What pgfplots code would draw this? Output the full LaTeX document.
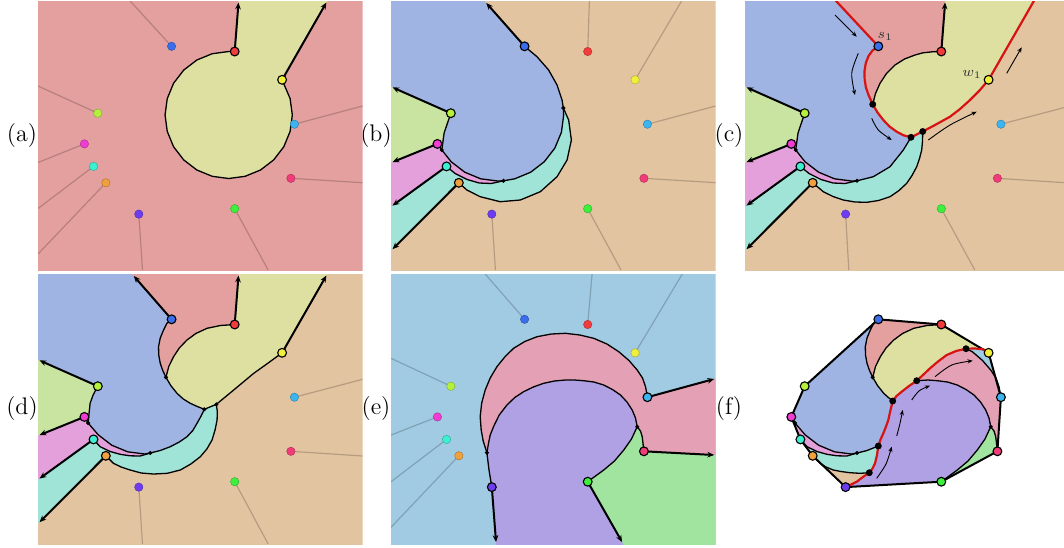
\documentclass[border=0pt]{standalone}
\usepackage{pgfplots}
\pgfplotsset{compat=1.18}
\usetikzlibrary{arrows.meta}
\definecolor{cPink}{RGB}{228,160,159}
\definecolor{cYel}{RGB}{222,224,162}
\definecolor{cBlue}{RGB}{160,180,228}
\definecolor{cTan}{RGB}{227,196,160}
\definecolor{cLgr}{RGB}{200,228,160}
\definecolor{cMag}{RGB}{228,160,218}
\definecolor{cTurq}{RGB}{160,228,216}
\definecolor{cSky}{RGB}{160,203,227}
\definecolor{cRose}{RGB}{228,160,180}
\definecolor{cPurp}{RGB}{176,160,228}
\definecolor{cGrn}{RGB}{160,228,160}
\definecolor{cRed}{RGB}{215,20,20}
\definecolor{sB}{RGB}{60,110,235}
\definecolor{sR}{RGB}{240,60,60}
\definecolor{sY}{RGB}{240,240,60}
\definecolor{sL}{RGB}{180,240,60}
\definecolor{sS}{RGB}{60,180,240}
\definecolor{sM}{RGB}{240,60,210}
\definecolor{sT}{RGB}{60,240,210}
\definecolor{sO}{RGB}{240,160,60}
\definecolor{sP}{RGB}{240,60,120}
\definecolor{sV}{RGB}{110,60,240}
\definecolor{sG}{RGB}{60,240,60}
\pgfplotsset{
  panel/.style={scale only axis, hide axis, clip=true, anchor=north west, y dir=reverse,
    xmin=0, xmax=324, ymin=0, ymax=269, width=162pt, height=134.5pt},
  rg/.style={fill=#1, draw=none},
  ed/.style={draw=black, line width=0.65pt, line join=round},
  ray/.style={draw=black, line width=1pt, -{Stealth[length=3.4pt,width=2.8pt]}},
  gh/.style={draw=black, draw opacity=0.2, line width=0.6pt},
  rd/.style={draw=cRed, line width=1.1pt, line join=round},
  hull/.style={draw=black, line width=1pt, line join=round},
  st/.style={only marks, mark=*, mark size=2.2pt, mark options={fill=#1, draw=black, line width=0.55pt}},
  ist/.style={only marks, mark=*, mark size=2.1pt, mark options={fill=#1, draw=#1!70!black, line width=0.2pt}},
  dt/.style={only marks, mark=*, mark size=#1, mark options={fill=black, draw=black}},
  dt/.default=0.8pt,
  fl/.style={draw=black, line width=0.45pt, smooth, -{Stealth[length=2.6pt,width=2.1pt]}},
}
\begin{document}
\begin{tikzpicture}
\useasboundingbox (0,0) rectangle (532pt,-273.5pt);
\fill[white] (0,0) rectangle (532pt,-273.5pt);
\tikzset{lab/.style={font=\fontsize{12}{14}\selectfont}}
\node[lab] at (11pt,-68pt) {(a)};
\node[lab] at (188pt,-68pt) {(b)};
\node[lab] at (364.5pt,-68pt) {(c)};
\node[lab] at (11pt,-204.5pt) {(d)};
\node[lab] at (188pt,-204.5pt) {(e)};
\node[lab] at (364.5pt,-204.5pt) {(f)};

% ================= (a)
\begin{axis}[panel, at={(19pt,-0.5pt)}]
\addplot[rg=cPink] coordinates {(-2,-2) (326,-2) (326,272) (-2,272)} --cycle;
\addplot[gh] coordinates {(133.3,45.3) (92,0)};
\addplot[gh] coordinates {(59.7,112.2) (0,85)};
\addplot[gh] coordinates {(46.3,142.9) (0,161.5)};
\addplot[gh] coordinates {(55.4,165.4) (0,207.5)};
\addplot[gh] coordinates {(67.7,181.8) (0,253)};
\addplot[gh] coordinates {(100.6,213.1) (104.3,269)};
\addplot[gh] coordinates {(196.3,207.7) (229.7,269)};
\addplot[gh] coordinates {(252.4,177.3) (324,181.7)};
\addplot[gh] coordinates {(255.9,123.2) (324,105)};
\addplot[rg=cYel] coordinates {(196.3,50.5) (200.4,-2) (290,-2) (243.6,78.8) (251.6,97.6) (253.8,114) (251.6,130.4) (245.3,145.75) (235.2,158.9) (222.05,169) (206.7,175.3) (190.3,177.5) (173.9,175.3) (158.55,169) (145.4,158.9) (135.3,145.75) (129,130.4) (126.8,114) (129,97.6) (135.3,82.25) (145.4,69.1) (158.55,59) (173.9,52.7) (190.3,50.5)} --cycle;
\addplot[ed] coordinates {(243.6,78.8) (251.6,97.6) (253.8,114) (251.6,130.4) (245.3,145.75) (235.2,158.9) (222.05,169) (206.7,175.3) (190.3,177.5) (173.9,175.3) (158.55,169) (145.4,158.9) (135.3,145.75) (129,130.4) (126.8,114) (129,97.6) (135.3,82.25) (145.4,69.1) (158.55,59) (173.9,52.7) (190.3,50.5) (196.3,50.5)};
\addplot[ray] coordinates {(196.3,50.5) (200.1,1.5)};
\addplot[ray] coordinates {(243.6,78.8) (287.8,1.5)};
\addplot[ist=sB] coordinates {(133.3,45.3)};
\addplot[st=sR] coordinates {(196.3,50.5)};
\addplot[st=sY] coordinates {(243.6,78.8)};
\addplot[ist=sL] coordinates {(59.7,112.2)};
\addplot[ist=sS] coordinates {(255.9,123.2)};
\addplot[ist=sM] coordinates {(46.3,142.9)};
\addplot[ist=sT] coordinates {(55.4,165.4)};
\addplot[ist=sO] coordinates {(67.7,181.8)};
\addplot[ist=sP] coordinates {(252.4,177.3)};
\addplot[ist=sV] coordinates {(100.6,213.1)};
\addplot[ist=sG] coordinates {(196.3,207.7)};
\end{axis}

% ================= (b)
\begin{axis}[panel, at={(195.5pt,-0.5pt)}]
\addplot[rg=cTan] coordinates {(-2,-2) (326,-2) (326,272) (-2,272)} --cycle;
\addplot[gh] coordinates {(196.3,50.5) (198,0)};
\addplot[gh] coordinates {(243.6,78.8) (290,0)};
\addplot[gh] coordinates {(255.9,123.2) (324,105)};
\addplot[gh] coordinates {(252.4,177.3) (324,181.7)};
\addplot[gh] coordinates {(196.3,207.7) (229.5,269)};
\addplot[gh] coordinates {(100.6,213.1) (104.2,269)};
\addplot[rg=cBlue] coordinates {(-2,-2) (91.6,-2) (133.3,45.3) (145.7,55.7) (157.3,69) (165.7,84) (170.7,99) (172,107) (172.3,114.2) (170.1,131.2) (163.5,147.1) (153,160.7) (139.4,171.2) (123.5,177.8) (112.2,179.8) (106.5,180) (89.5,177.8) (73.6,171.2) (60,160.7) (50.7,149) (53,132) (59.7,112.2) (-2,84.8)} --cycle;
\addplot[rg=cLgr] coordinates {(-2,84.8) (59.7,112.2) (54.5,127) (51,138) (46.3,142.9) (-2,162.5)} --cycle;
\addplot[rg=cMag] coordinates {(-2,162.5) (46.3,142.9) (50.7,149) (60,160.7) (73.6,171.2) (89.5,177.8) (106.5,180) (112.2,179.8) (100,182.5) (88,182) (76,178.5) (64,172.5) (55.4,165.4) (-2,207.2)} --cycle;
\addplot[rg=cTurq] coordinates {(-2,207.2) (55.4,165.4) (64,172.5) (76,178.5) (88,182) (100,182.5) (112.2,179.8) (123.5,177.8) (139.4,171.2) (153,160.7) (163.5,147.1) (170.1,131.2) (172.3,114.2) (172,107) (177.3,119) (180,139) (175.7,159) (165.7,175.7) (149,190.7) (129,199) (109,200.7) (89,195.7) (75.7,189) (67.7,181.8) (-2,251.7)} --cycle;
\addplot[ed] coordinates {(133.3,45.3) (145.7,55.7) (157.3,69) (165.7,84) (170.7,99) (172,107) (172.3,114.2) (170.1,131.2) (163.5,147.1) (153,160.7) (139.4,171.2) (123.5,177.8) (112.2,179.8) (106.5,180) (89.5,177.8) (73.6,171.2) (60,160.7) (50.7,149) (53,132) (59.7,112.2)};
\addplot[ed] coordinates {(46.3,142.9) (50.7,149)};
\addplot[ed] coordinates {(112.2,179.8) (100,182.5) (88,182) (76,178.5) (64,172.5) (55.4,165.4)};
\addplot[ed] coordinates {(172,107) (177.3,119) (180,139) (175.7,159) (165.7,175.7) (149,190.7) (129,199) (109,200.7) (89,195.7) (75.7,189) (67.7,181.8)};
\addplot[ray] coordinates {(133.3,45.3) (95.1,2)};
\addplot[ray] coordinates {(59.7,112.2) (1.5,86.4)};
\addplot[ray] coordinates {(46.3,142.9) (1.5,161.1)};
\addplot[ray] coordinates {(55.4,165.4) (1.5,204.6)};
\addplot[ray] coordinates {(67.7,181.8) (1.5,248.2)};
\addplot[dt] coordinates {(172,107) (112.2,179.8) (50.7,149)};
\addplot[st=sB] coordinates {(133.3,45.3)};
\addplot[ist=sR] coordinates {(196.3,50.5)};
\addplot[ist=sY] coordinates {(243.6,78.8)};
\addplot[st=sL] coordinates {(59.7,112.2)};
\addplot[ist=sS] coordinates {(255.9,123.2)};
\addplot[st=sM] coordinates {(46.3,142.9)};
\addplot[st=sT] coordinates {(55.4,165.4)};
\addplot[st=sO] coordinates {(67.7,181.8)};
\addplot[ist=sP] coordinates {(252.4,177.3)};
\addplot[ist=sV] coordinates {(100.6,213.1)};
\addplot[ist=sG] coordinates {(196.3,207.7)};
\end{axis}

% ================= (c)
\begin{axis}[panel, at={(372.5pt,-0.5pt)}, xmax=319, width=159.5pt]
\addplot[rg=cTan] coordinates {(-2,-2) (326,-2) (326,272) (-2,272)} --cycle;
\addplot[gh] coordinates {(255.9,123.2) (324,105.3)};
\addplot[gh] coordinates {(252.4,177.3) (324,182)};
\addplot[gh] coordinates {(196.3,207.7) (229.8,269)};
\addplot[gh] coordinates {(100.6,213.1) (103.8,269)};
\addplot[rg=cBlue] coordinates {(-2,-2) (89.2,-2) (133.3,45.3) (127.5,49.5) (123.5,55) (120.8,62) (119.5,70) (119.6,78) (120.8,86) (123.5,94) (127.7,103.3) (132.5,111.5) (138.3,119) (144.5,125.5) (151.7,130.7) (158.5,134.3) (166,136.3) (158.3,149) (145,165.7) (128.3,175.7) (112,179.8) (106.5,180) (89.5,177.8) (73.6,171.2) (60,160.7) (50.7,149) (53,132) (59.7,112.2) (-2,84.8)} --cycle;
\addplot[rg=cPink] coordinates {(89.2,-2) (200.4,-2) (196.3,50.5) (188.3,50.7) (178,51.8) (170,54) (159.5,58) (150,64) (141.5,72.5) (135,82.3) (130.5,92.5) (127.7,103.3) (123.5,94) (120.8,86) (119.6,78) (119.5,70) (120.8,62) (123.5,55) (127.5,49.5) (133.3,45.3)} --cycle;
\addplot[rg=cYel] coordinates {(196.3,50.5) (200.4,-2) (290,-2) (243.6,78.8) (234.5,89.5) (225,99) (215,108) (205,115.7) (190,124) (177.7,130.5) (166,136.3) (158.5,134.3) (151.7,130.7) (144.5,125.5) (138.3,119) (132.5,111.5) (127.7,103.3) (130.5,92.5) (135,82.3) (141.5,72.5) (150,64) (159.5,58) (170,54) (178,51.8) (188.3,50.7)} --cycle;
\addplot[rg=cLgr] coordinates {(-2,84.8) (59.7,112.2) (54.5,127) (51,138) (46.3,142.9) (-2,162.5)} --cycle;
\addplot[rg=cMag] coordinates {(-2,162.5) (46.3,142.9) (50.7,149) (60,160.7) (73.6,171.2) (89.5,177.8) (106.5,180) (112,179.8) (100,182.5) (88,182) (76,178.5) (64,172.5) (55.4,165.4) (-2,207.2)} --cycle;
\addplot[rg=cTurq] coordinates {(-2,207.2) (55.4,165.4) (64,172.5) (76,178.5) (88,182) (100,182.5) (112,179.8) (128.3,175.7) (145,165.7) (158.3,149) (166,136.3) (177.7,130.5) (177.5,140) (176.7,149) (174.5,157.5) (171.7,165.7) (167,174.5) (161.7,182.3) (154,189.5) (145,195.7) (133.5,199.5) (121.7,201.3) (110,201) (98.3,199) (88,195.5) (78.3,190.7) (67.7,181.8) (-2,251.7)} --cycle;
\addplot[ed] coordinates {(127.7,103.3) (130.5,92.5) (135,82.3) (141.5,72.5) (150,64) (159.5,58) (170,54) (178,51.8) (188.3,50.7) (196.3,50.5)};
\addplot[ed] coordinates {(166,136.3) (158.3,149) (145,165.7) (128.3,175.7) (112,179.8) (106.5,180) (89.5,177.8) (73.6,171.2) (60,160.7) (50.7,149) (53,132) (59.7,112.2)};
\addplot[ed] coordinates {(46.3,142.9) (50.7,149)};
\addplot[ed] coordinates {(112,179.8) (100,182.5) (88,182) (76,178.5) (64,172.5) (55.4,165.4)};
\addplot[ed] coordinates {(177.7,130.5) (177.5,140) (176.7,149) (174.5,157.5) (171.7,165.7) (167,174.5) (161.7,182.3) (154,189.5) (145,195.7) (133.5,199.5) (121.7,201.3) (110,201) (98.3,199) (88,195.5) (78.3,190.7) (67.7,181.8)};
\addplot[ray] coordinates {(196.3,50.5) (200.1,1.5)};
\addplot[ray] coordinates {(59.7,112.2) (1.5,86.4)};
\addplot[ray] coordinates {(46.3,142.9) (1.5,161.1)};
\addplot[ray] coordinates {(55.4,165.4) (1.5,204.6)};
\addplot[ray] coordinates {(67.7,181.8) (1.5,248.2)};
\addplot[rd] coordinates {(89.2,-2) (133.3,45.3) (127.5,49.5) (123.5,55) (120.8,62) (119.5,70) (119.6,78) (120.8,86) (123.5,94) (127.7,103.3) (132.5,111.5) (138.3,119) (144.5,125.5) (151.7,130.7) (158.5,134.3) (166,136.3) (177.7,130.5) (190,124) (205,115.7) (215,108) (225,99) (234.5,89.5) (243.6,78.8) (290,-2)};
\addplot[fl] coordinates {(90,14) (111.7,35.7)};
\addplot[fl] coordinates {(113.3,52.3) (106.7,72.3) (110,94)};
\addplot[fl] coordinates {(126.7,117.3) (133.3,129) (146.7,139)};
\addplot[fl] coordinates {(183.3,139) (205,124) (231.7,110.7)};
\addplot[fl] coordinates {(261.7,72.3) (276.7,46.3)};
\addplot[dt=1.5pt] coordinates {(127.7,103.3) (166,136.3) (177.7,130.5)};
\addplot[dt] coordinates {(112,179.8) (50.7,149)};
\node[font=\fontsize{7.5}{8}\selectfont, text=black!80] at (axis cs:140.3,35.2) {$s_1$};
\node[font=\fontsize{7.5}{8}\selectfont, text=black!80] at (axis cs:227,73.2) {$w_1$};
\addplot[st=sB] coordinates {(133.3,45.3)};
\addplot[st=sR] coordinates {(196.3,50.5)};
\addplot[st=sY] coordinates {(243.6,78.8)};
\addplot[st=sL] coordinates {(59.7,112.2)};
\addplot[ist=sS] coordinates {(255.9,123.2)};
\addplot[st=sM] coordinates {(46.3,142.9)};
\addplot[st=sT] coordinates {(55.4,165.4)};
\addplot[st=sO] coordinates {(67.7,181.8)};
\addplot[ist=sP] coordinates {(252.4,177.3)};
\addplot[ist=sV] coordinates {(100.6,213.1)};
\addplot[ist=sG] coordinates {(196.3,207.7)};
\end{axis}

% ================= (d)
\begin{axis}[panel, at={(19pt,-137pt)}, ymax=270, height=135pt]
\addplot[rg=cTan] coordinates {(-2,-2) (326,-2) (326,272) (-2,272)} --cycle;
\addplot[gh] coordinates {(255.9,123.2) (324,105.3)};
\addplot[gh] coordinates {(252.4,177.3) (324,182)};
\addplot[gh] coordinates {(196.3,207.7) (229.7,270)};
\addplot[gh] coordinates {(100.6,213.1) (104.3,270)};
\addplot[rg=cBlue] coordinates {(-2,-2) (92.1,-2) (133.3,45.3) (128.5,49.5) (125.3,56) (122,64) (120.3,72.7) (120.5,81) (122,89.3) (124.5,96.5) (127.7,103.3) (132.5,111.5) (138.7,119.3) (145,125) (152,129.3) (159,132.5) (166,135.3) (162.5,142.5) (158.7,149.3) (154.5,156.5) (148.7,162.7) (141,168) (132,172.7) (122,176.5) (112,179) (106.5,180) (89.5,177.8) (73.6,171.2) (60,160.7) (50,149) (52,129.3) (55,121) (59.7,112.2) (-2,84.8)} --cycle;
\addplot[rg=cPink] coordinates {(92.1,-2) (200.4,-2) (196.3,50.5) (182,51.5) (168.7,54.3) (157.5,59.5) (148.7,66) (141,74) (135.3,82.7) (130.5,92.5) (127.7,103.3) (124.5,96.5) (122,89.3) (120.5,81) (120.3,72.7) (122,64) (125.3,56) (128.5,49.5) (133.3,45.3)} --cycle;
\addplot[rg=cYel] coordinates {(196.3,50.5) (200.4,-2) (290,-2) (243.6,78.8) (229,89.5) (215.3,99.3) (195.3,116) (178,130.3) (166,135.3) (159,132.5) (152,129.3) (145,125) (138.7,119.3) (132.5,111.5) (127.7,103.3) (130.5,92.5) (135.3,82.7) (141,74) (148.7,66) (157.5,59.5) (168.7,54.3) (182,51.5)} --cycle;
\addplot[rg=cLgr] coordinates {(-2,84.8) (59.7,112.2) (55,121) (52,129.3) (50.5,138) (46.3,142.9) (-2,162.5)} --cycle;
\addplot[rg=cMag] coordinates {(-2,162.5) (46.3,142.9) (50,149) (60,160.7) (73.6,171.2) (89.5,177.8) (106.5,180) (112,179) (102,182) (92,181.8) (82,180.3) (72,177.5) (62,172.7) (55.4,165.4) (-2,207.2)} --cycle;
\addplot[rg=cTurq] coordinates {(-2,207.2) (55.4,165.4) (62,172.7) (72,177.5) (82,180.3) (92,181.8) (102,182) (112,179) (122,176.5) (132,172.7) (141,168) (148.7,162.7) (154.5,156.5) (158.7,149.3) (162.5,142.5) (166,135.3) (178,130.3) (179,138) (178.7,146) (176.7,156) (173.7,166) (168.5,175) (162,182.7) (152.5,190) (142,196) (129,199.3) (115.3,200) (103,199) (92,196) (83,193) (75.3,189.3) (67.7,181.8) (-2,251.7)} --cycle;
\addplot[ed] coordinates {(133.3,45.3) (128.5,49.5) (125.3,56) (122,64) (120.3,72.7) (120.5,81) (122,89.3) (124.5,96.5) (127.7,103.3) (132.5,111.5) (138.7,119.3) (145,125) (152,129.3) (159,132.5) (166,135.3) (162.5,142.5) (158.7,149.3) (154.5,156.5) (148.7,162.7) (141,168) (132,172.7) (122,176.5) (112,179) (106.5,180) (89.5,177.8) (73.6,171.2) (60,160.7) (50,149) (52,129.3) (55,121) (59.7,112.2)};
\addplot[ed] coordinates {(127.7,103.3) (130.5,92.5) (135.3,82.7) (141,74) (148.7,66) (157.5,59.5) (168.7,54.3) (182,51.5) (196.3,50.5)};
\addplot[ed] coordinates {(243.6,78.8) (229,89.5) (215.3,99.3) (195.3,116) (178,130.3) (166,135.3)};
\addplot[ed] coordinates {(46.3,142.9) (50,149)};
\addplot[ed] coordinates {(112,179) (102,182) (92,181.8) (82,180.3) (72,177.5) (62,172.7) (55.4,165.4)};
\addplot[ed] coordinates {(178,130.3) (179,138) (178.7,146) (176.7,156) (173.7,166) (168.5,175) (162,182.7) (152.5,190) (142,196) (129,199.3) (115.3,200) (103,199) (92,196) (83,193) (75.3,189.3) (67.7,181.8)};
\addplot[ray] coordinates {(133.3,45.3) (95.6,2)};
\addplot[ray] coordinates {(196.3,50.5) (200.1,1.5)};
\addplot[ray] coordinates {(243.6,78.8) (287.8,1.5)};
\addplot[ray] coordinates {(59.7,112.2) (1.5,86.4)};
\addplot[ray] coordinates {(46.3,142.9) (1.5,161.1)};
\addplot[ray] coordinates {(55.4,165.4) (1.5,204.6)};
\addplot[ray] coordinates {(67.7,181.8) (1.5,248.2)};
\addplot[dt] coordinates {(127.7,103.3) (166,135.3) (178,130.3) (112,179) (50,149)};
\addplot[st=sB] coordinates {(133.3,45.3)};
\addplot[st=sR] coordinates {(196.3,50.5)};
\addplot[st=sY] coordinates {(243.6,78.8)};
\addplot[st=sL] coordinates {(59.7,112.2)};
\addplot[ist=sS] coordinates {(255.9,123.2)};
\addplot[st=sM] coordinates {(46.3,142.9)};
\addplot[st=sT] coordinates {(55.4,165.4)};
\addplot[st=sO] coordinates {(67.7,181.8)};
\addplot[ist=sP] coordinates {(252.4,177.3)};
\addplot[ist=sV] coordinates {(100.6,213.1)};
\addplot[ist=sG] coordinates {(196.3,207.7)};
\end{axis}

% ================= (e)
\begin{axis}[panel, at={(195.5pt,-137pt)}, ymax=270, height=135pt]
\addplot[rg=cSky] coordinates {(-2,-2) (326,-2) (326,272) (-2,272)} --cycle;
\addplot[gh] coordinates {(133.3,45.3) (94,0)};
\addplot[gh] coordinates {(196.3,50.5) (200.7,0)};
\addplot[gh] coordinates {(243.6,78.8) (290.7,0)};
\addplot[gh] coordinates {(59.7,112.2) (0,84.3)};
\addplot[gh] coordinates {(46.3,142.9) (0,161)};
\addplot[gh] coordinates {(55.4,165.4) (0,207.7)};
\addplot[gh] coordinates {(67.7,181.8) (0,253.3)};
\addplot[rg=cRose] coordinates {(95.7,178.7) (92,167) (90,156) (89,142.7) (90.5,129) (94,116) (99,104) (105.7,92.7) (113.5,83) (122.3,74.3) (133.5,67.5) (145.7,62.7) (160,60) (174,59.3) (188.5,61) (202.3,64.3) (215.5,70) (227.3,77.7) (237.5,86.5) (245.7,96) (251,104) (254,112.7) (255.9,123.2) (326,104) (326,181.2) (252.4,177.3) (250.7,162.7) (245.7,152.7) (244,144) (240.7,136) (235.5,128) (229,121) (221,115.5) (212.3,111) (202.5,108) (192.3,106.7) (183,106) (174,106) (163,107) (152.3,109.3) (142,113) (132.3,117.7) (123.5,123.5) (115.7,131) (108,141) (102.3,152.7) (99,161) (97.3,169.3)} --cycle;
\addplot[rg=cPurp] coordinates {(95.7,178.7) (97.3,169.3) (99,161) (102.3,152.7) (108,141) (115.7,131) (123.5,123.5) (132.3,117.7) (142,113) (152.3,109.3) (163,107) (174,106) (183,106) (192.3,106.7) (202.5,108) (212.3,111) (221,115.5) (229,121) (235.5,128) (240.7,136) (244,144) (245.7,152.7) (240,165) (232.3,176) (223,187) (212.3,196) (196.3,207.7) (232.4,271) (105.05,271) (100.6,213.1) (97.8,196)} --cycle;
\addplot[rg=cGrn] coordinates {(196.3,207.7) (212.3,196) (223,187) (232.3,176) (240,165) (245.7,152.7) (249,157) (250.7,162.7) (252.4,177.3) (326,181.2) (326,272) (232.4,271)} --cycle;
\addplot[ed] coordinates {(95.7,178.7) (92,167) (90,156) (89,142.7) (90.5,129) (94,116) (99,104) (105.7,92.7) (113.5,83) (122.3,74.3) (133.5,67.5) (145.7,62.7) (160,60) (174,59.3) (188.5,61) (202.3,64.3) (215.5,70) (227.3,77.7) (237.5,86.5) (245.7,96) (251,104) (254,112.7) (255.9,123.2)};
\addplot[ed] coordinates {(95.7,178.7) (97.3,169.3) (99,161) (102.3,152.7) (108,141) (115.7,131) (123.5,123.5) (132.3,117.7) (142,113) (152.3,109.3) (163,107) (174,106) (183,106) (192.3,106.7) (202.5,108) (212.3,111) (221,115.5) (229,121) (235.5,128) (240.7,136) (244,144) (245.7,152.7) (249,157) (250.7,162.7) (252.4,177.3)};
\addplot[ed] coordinates {(245.7,152.7) (240,165) (232.3,176) (223,187) (212.3,196) (196.3,207.7)};
\addplot[ed] coordinates {(95.7,178.7) (97.8,196) (100.6,213.1)};
\addplot[ray] coordinates {(255.9,123.2) (322.5,105)};
\addplot[ray] coordinates {(252.4,177.3) (322.5,181)};
\addplot[ray] coordinates {(100.6,213.1) (104.8,268)};
\addplot[ray] coordinates {(196.3,207.7) (230.6,268)};
\addplot[dt] coordinates {(95.7,178.7) (245.7,152.7)};
\addplot[ist=sB] coordinates {(133.3,45.3)};
\addplot[ist=sR] coordinates {(196.3,50.5)};
\addplot[ist=sY] coordinates {(243.6,78.8)};
\addplot[ist=sL] coordinates {(59.7,112.2)};
\addplot[st=sS] coordinates {(255.9,123.2)};
\addplot[ist=sM] coordinates {(46.3,142.9)};
\addplot[ist=sT] coordinates {(55.4,165.4)};
\addplot[ist=sO] coordinates {(67.7,181.8)};
\addplot[st=sP] coordinates {(252.4,177.3)};
\addplot[st=sV] coordinates {(100.6,213.1)};
\addplot[st=sG] coordinates {(196.3,207.7)};
\end{axis}

% ================= (f)
\begin{axis}[panel, at={(372.5pt,-137pt)}, xmax=319, width=159.5pt, ymax=270, height=135pt]
\addplot[rg=cBlue] coordinates {(133.3,45.3) (128.5,49.5) (125.3,56) (122,64) (120.3,72.7) (120.5,81) (122,89.3) (124.5,96.5) (127.7,103.3) (132.5,111.5) (138.7,119.3) (143.5,123.6) (147.7,127) (145.5,136) (143.3,146) (141,152.5) (138.3,159.3) (135.5,165.5) (133.3,172) (122,176.5) (112,179) (106.5,180) (89.5,177.8) (73.6,171.2) (60,160.7) (50,149) (46.3,142.9) (59.7,112.2)} --cycle;
\addplot[rg=cPink] coordinates {(133.3,45.3) (196.3,50.5) (182,51.5) (168.7,54.3) (157.5,59.5) (148.7,66) (141,74) (135.3,82.7) (130.5,92.5) (127.7,103.3) (124.5,96.5) (122,89.3) (120.5,81) (120.3,72.7) (122,64) (125.3,56) (128.5,49.5)} --cycle;
\addplot[rg=cYel] coordinates {(196.3,50.5) (243.6,78.8) (238.3,75.3) (230,74.5) (221,74.7) (211,77) (201.7,81) (193,87.5) (185,94.3) (178.5,100.5) (171.7,106.7) (164,112) (156.7,117.7) (151.5,122) (147.7,127) (143.5,123.6) (138.7,119.3) (132.5,111.5) (127.7,103.3) (130.5,92.5) (135.3,82.7) (141,74) (148.7,66) (157.5,59.5) (168.7,54.3) (182,51.5)} --cycle;
\addplot[rg=cMag] coordinates {(46.3,142.9) (50,149) (60,160.7) (73.6,171.2) (89.5,177.8) (106.5,180) (112,179) (102,182) (92,181.8) (82,180.3) (72,177.5) (62,172.7) (55.4,165.4)} --cycle;
\addplot[rg=cTurq] coordinates {(55.4,165.4) (62,172.7) (72,177.5) (82,180.3) (92,181.8) (102,182) (112,179) (122,176.5) (133.3,172) (132,181) (130,189.3) (127.5,194.5) (124.3,198.7) (115,199.3) (105,198.7) (96,197.5) (88.3,196) (81,193) (75,189.3) (67.7,181.8)} --cycle;
\addplot[rg=cTan] coordinates {(67.7,181.8) (75,189.3) (81,193) (88.3,196) (96,197.5) (105,198.7) (115,199.3) (124.3,198.7) (118.3,202.7) (112,207.5) (105,211) (100.6,213.1)} --cycle;
\addplot[rg=cPurp] coordinates {(100.6,213.1) (105,211) (112,207.5) (118.3,202.7) (124.3,198.7) (127.5,194.5) (130,189.3) (132,181) (133.3,172) (135.5,165.5) (138.3,159.3) (141,152.5) (143.3,146) (145.5,136) (147.7,127) (151.5,122) (156.7,117.7) (164,112) (171.7,106.7) (183,106) (192.3,106.7) (202.5,108) (212.3,111) (221,115.5) (229,121) (235.5,128) (240.7,136) (244,144) (245.7,152.7) (240,165) (232.3,176) (223,187) (212.3,196) (196.3,207.7)} --cycle;
\addplot[rg=cGrn] coordinates {(245.7,152.7) (249,157) (250.7,162.7) (252.4,177.3) (196.3,207.7) (212.3,196) (223,187) (232.3,176) (240,165)} --cycle;
\addplot[rg=cRose] coordinates {(171.7,106.7) (178.5,100.5) (185,94.3) (193,87.5) (201.7,81) (211,77) (221,74.7) (227.3,77.7) (237.5,86.5) (245.7,96) (251,104) (254,112.7) (255.9,123.2) (252.4,177.3) (250.7,162.7) (249,157) (245.7,152.7) (244,144) (240.7,136) (235.5,128) (229,121) (221,115.5) (212.3,111) (202.5,108) (192.3,106.7) (183,106)} --cycle;
\addplot[rg=cSky] coordinates {(221,74.7) (230,74.5) (238.3,75.3) (243.6,78.8) (255.9,123.2) (254,112.7) (251,104) (245.7,96) (237.5,86.5) (227.3,77.7)} --cycle;
\addplot[ed] coordinates {(133.3,45.3) (128.5,49.5) (125.3,56) (122,64) (120.3,72.7) (120.5,81) (122,89.3) (124.5,96.5) (127.7,103.3) (132.5,111.5) (138.7,119.3) (143.5,123.6) (147.7,127)};
\addplot[ed] coordinates {(127.7,103.3) (130.5,92.5) (135.3,82.7) (141,74) (148.7,66) (157.5,59.5) (168.7,54.3) (182,51.5) (196.3,50.5)};
\addplot[ed] coordinates {(133.3,172) (122,176.5) (112,179) (106.5,180) (89.5,177.8) (73.6,171.2) (60,160.7) (50,149) (46.3,142.9)};
\addplot[ed] coordinates {(112,179) (102,182) (92,181.8) (82,180.3) (72,177.5) (62,172.7) (55.4,165.4)};
\addplot[ed] coordinates {(124.3,198.7) (115,199.3) (105,198.7) (96,197.5) (88.3,196) (81,193) (75,189.3) (67.7,181.8)};
\addplot[ed] coordinates {(171.7,106.7) (183,106) (192.3,106.7) (202.5,108) (212.3,111) (221,115.5) (229,121) (235.5,128) (240.7,136) (244,144) (245.7,152.7) (249,157) (250.7,162.7) (252.4,177.3)};
\addplot[ed] coordinates {(245.7,152.7) (240,165) (232.3,176) (223,187) (212.3,196) (196.3,207.7)};
\addplot[ed] coordinates {(221,74.7) (227.3,77.7) (237.5,86.5) (245.7,96) (251,104) (254,112.7) (255.9,123.2)};
\addplot[hull] coordinates {(133.3,45.3) (196.3,50.5) (243.6,78.8) (255.9,123.2) (252.4,177.3) (196.3,207.7) (100.6,213.1) (67.7,181.8) (55.4,165.4) (46.3,142.9) (59.7,112.2)} --cycle;
\addplot[rd] coordinates {(100.6,213.1) (105,211) (112,207.5) (118.3,202.7) (124.3,198.7) (127.5,194.5) (130,189.3) (132,181) (133.3,172) (135.5,165.5) (138.3,159.3) (141,152.5) (143.3,146) (145.5,136) (147.7,127) (151.5,122) (156.7,117.7) (164,112) (171.7,106.7) (178.5,100.5) (185,94.3) (193,87.5) (201.7,81) (211,77) (221,74.7) (230,74.5) (238.3,75.3) (243.6,78.8)};
\addplot[fl] coordinates {(131.7,204.3) (141,190) (146.7,172.7)};
\addplot[fl] coordinates {(151.7,162) (155,149.3) (157.7,136)};
\addplot[fl] coordinates {(166.7,126) (174.3,116.7) (185,111.7)};
\addplot[fl] coordinates {(190,102.7) (206.7,91) (227.7,86.7)};
\addplot[dt=1.5pt] coordinates {(124.3,198.7) (133.3,172) (147.7,127) (171.7,106.7) (221,74.7)};
\addplot[dt] coordinates {(127.7,103.3) (112,179) (50,149) (245.7,152.7)};
\addplot[st=sB] coordinates {(133.3,45.3)};
\addplot[st=sR] coordinates {(196.3,50.5)};
\addplot[st=sY] coordinates {(243.6,78.8)};
\addplot[st=sL] coordinates {(59.7,112.2)};
\addplot[st=sS] coordinates {(255.9,123.2)};
\addplot[st=sM] coordinates {(46.3,142.9)};
\addplot[st=sT] coordinates {(55.4,165.4)};
\addplot[st=sO] coordinates {(67.7,181.8)};
\addplot[st=sP] coordinates {(252.4,177.3)};
\addplot[st=sV] coordinates {(100.6,213.1)};
\addplot[st=sG] coordinates {(196.3,207.7)};
\end{axis}
\end{tikzpicture}
\end{document}
